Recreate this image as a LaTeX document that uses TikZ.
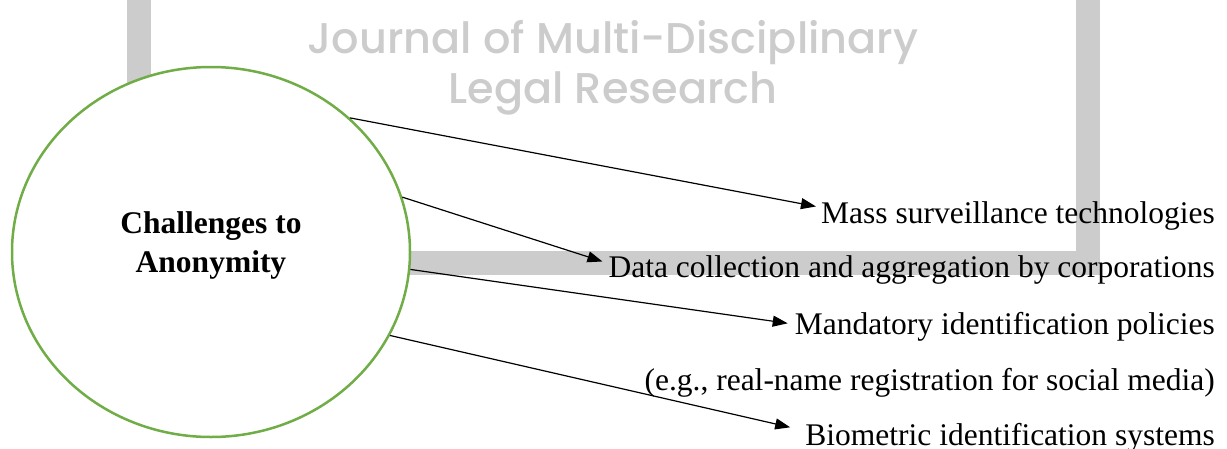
\documentclass[tikz,border=0pt]{standalone}
\usepackage{fontspec}
\setmainfont{Liberation Serif}
\newfontfamily\markfont{Poppins}[UprightFont=* Medium]
\usetikzlibrary{arrows.meta, shapes.geometric}
\definecolor{leafgreen}{HTML}{70AD47}
\definecolor{markgray}{HTML}{CCCCCC}

\begin{document}
\begin{tikzpicture}[x=1pt, y=-1pt,
    item/.style={anchor=base east, inner sep=0pt, font=\fontsize{31.5}{36}\selectfont},
    link/.style={-{Triangle[length=15pt, width=11pt]}, line width=1.2pt}]
  \useasboundingbox (0,0) rectangle (1227,448);
  % watermark behind the figure
  \draw [markgray, line width=24pt] (139,-30) -- (139,262.5) -- (1088,262.5) -- (1088,-30);
  \node [markgray, font=\markfont\fontsize{43}{50}\selectfont, align=center] (mark) at (613,68) {Journal of Multi-Disciplinary\\Legal Research};
  % central ellipse
  \node [ellipse, draw=leafgreen, line width=2.5pt, fill=white, minimum width=398pt, minimum height=370pt, inner sep=0pt] (hub) at (211,252) {};
  \node [font=\bfseries\fontsize{31.5}{39}\selectfont, align=center] (hubtext) at (211,245) {Challenges to\\Anonymity};
  % the challenges
  \node [item] (mass) at (1215,223) {Mass surveillance technologies};
  \node [item] (data) at (1215,277) {Data collection and aggregation by corporations};
  \node [item] (policy) at (1215,334) {Mandatory identification policies};
  \node [item] (example) at (1215,390) {(e.g., real-name registration for social media)};
  \node [item] (biometric) at (1215,445) {Biometric identification systems};
  \draw [link] (hub.44) -- ([xshift=-5pt, yshift=9pt]mass.west);
  \draw [link] (hub.16) -- ([xshift=-6pt, yshift=8pt]data.west);
  \draw [link] (hub.-5) -- ([xshift=-7pt, yshift=3pt]policy.west);
  \draw [link] (hub.-25) -- ([xshift=-15pt, yshift=10pt]biometric.west);
\end{tikzpicture}
\end{document}
